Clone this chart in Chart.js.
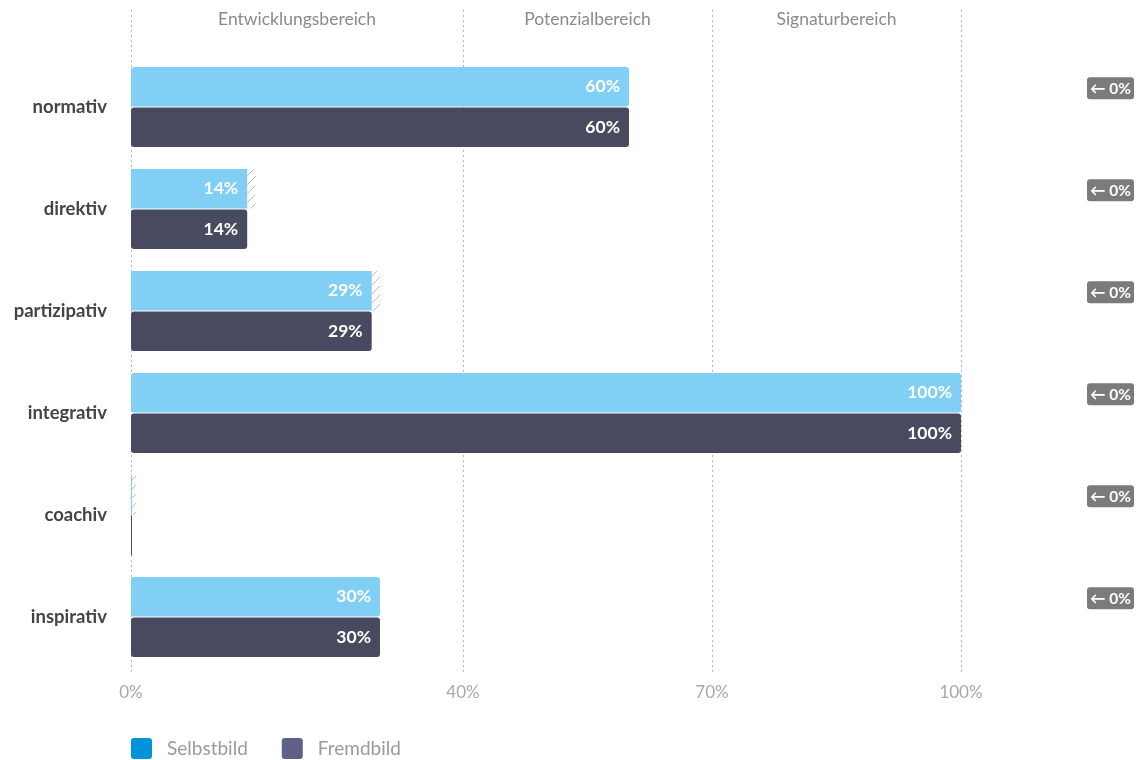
<!DOCTYPE html>
<html>
<head>
<meta charset="utf-8">
<script src="https://cdn.jsdelivr.net/npm/chart.js@4"></script>
<style>
  html, body { margin:0; padding:0; background:#fff; }
  #wrap { width:1138px; height:760px; position:relative; }
</style>
</head>
<body>
<div id="wrap"><canvas id="chart"></canvas></div>
<script>
// values
const categories = ['normativ','direktiv','partizipativ','integrativ','coachiv','inspirativ'];
const selbstbild = [60, 14, 29, 100, 0, 30];
const fremdbild = [60, 14, 29, 100, 0, 30];
const hatchPart = [0, 1, 1, 0, 0.5, 0];
const changes = [0, 0, 0, 0, 0, 0];
const xTicks = [0, 40, 70, 100];
const zones = ['Entwicklungsbereich', 'Potenzialbereich', 'Signaturbereich'];
const legendItems = [{label:'Selbstbild', color:'#0095da'}, {label:'Fremdbild', color:'#5f6189'}];

const FONT = 'Lato, "Open Sans", sans-serif';

// diagonal hatch fill
function makeHatch(){
    const c = document.createElement('canvas');
    c.width = 9; c.height = 9;
    const g = c.getContext('2d');
    g.strokeStyle = '#ababab';
    g.lineWidth = 0.8;
    g.beginPath(); g.moveTo(0,9); g.lineTo(9,0); g.stroke();
    return g.createPattern(c, 'repeat');
}
const hatchFill = makeHatch();

function roundRect(ctx, x, y, w, h, r){
    ctx.beginPath();
    ctx.moveTo(x+r, y);
    ctx.lineTo(x+w-r, y); ctx.quadraticCurveTo(x+w, y, x+w, y+r);
    ctx.lineTo(x+w, y+h-r); ctx.quadraticCurveTo(x+w, y+h, x+w-r, y+h);
    ctx.lineTo(x+r, y+h); ctx.quadraticCurveTo(x, y+h, x, y+h-r);
    ctx.lineTo(x, y+r); ctx.quadraticCurveTo(x, y, x+r, y);
    ctx.closePath();
}

const extras = {
    id: 'extras',
    beforeDatasetsDraw(chart){
        const {ctx, chartArea, scales:{x}} = chart;
        ctx.save();
        // dotted vertical grid
        ctx.strokeStyle = '#b5b5b5';
        ctx.lineWidth = 1;
        ctx.setLineDash([2,3]);
        xTicks.forEach(v=>{
            const px = Math.round(x.getPixelForValue(v)) + 0.5;
            ctx.beginPath(); ctx.moveTo(px, 10); ctx.lineTo(px, chartArea.bottom + 4); ctx.stroke();
        });
        ctx.setLineDash([]);
        // zone titles
        ctx.fillStyle = '#8a8a8a';
        ctx.font = '17.5px ' + FONT;
        ctx.textAlign = 'center'; ctx.textBaseline = 'middle';
        zones.forEach((z,i)=>{
            const cx = (x.getPixelForValue(xTicks[i]) + x.getPixelForValue(xTicks[i+1])) / 2;
            ctx.fillText(z, cx, 19);
        });
        ctx.restore();
    },
    afterDatasetsDraw(chart){
        const {ctx} = chart;
        ctx.save();
        ctx.font = 'bold 17.5px ' + FONT;
        ctx.fillStyle = '#ffffff';
        ctx.textAlign = 'right'; ctx.textBaseline = 'middle';
        [0,1].forEach(di=>{
            const meta = chart.getDatasetMeta(di);
            const vals = chart.data.datasets[di].data;
            meta.data.forEach((bar,i)=>{
                if (!vals[i]) return;
                ctx.fillText(vals[i] + '%', bar.x - 9, bar.y);
            });
        });
        // change badges at the right
        const meta0 = chart.getDatasetMeta(0);
        meta0.data.forEach((bar,i)=>{
            const bx = 1087, bw = 47, bh = 22, by = bar.y + 1.5 - bh/2;
            ctx.fillStyle = '#7b7b7b';
            roundRect(ctx, bx, by, bw, bh, 3); ctx.fill();
            ctx.fillStyle = '#ffffff';
            ctx.font = 'bold 15.5px ' + FONT;
            ctx.textAlign = 'center';
            ctx.fillText('\u2190 ' + changes[i] + '%', bx + bw/2, by + bh/2 + 0.5);
        });
        // legend
        let lx = 131;
        const ly = 748;
        ctx.font = '19px ' + FONT;
        ctx.textAlign = 'left';
        legendItems.forEach(it=>{
            ctx.fillStyle = it.color;
            roundRect(ctx, lx, ly - 10, 21, 21, 3); ctx.fill();
            ctx.fillStyle = '#9a9a9a';
            ctx.fillText(it.label, lx + 36, ly + 1);
            lx += 36 + ctx.measureText(it.label).width + 34;
        });
        ctx.restore();
    }
};

new Chart(document.getElementById('chart'), {
    type: 'bar',
    data: {
        labels: categories,
        datasets: [
            {label:'Selbstbild', data:selbstbild, backgroundColor:'#81cff5', stack:'a', borderRadius:3, borderSkipped:false, minBarLength:1},
            {label:'Fremdbild', data:fremdbild, backgroundColor:'#484b60', stack:'b', borderRadius:3, borderSkipped:false, minBarLength:1},
            {label:'Spanne', data:hatchPart, backgroundColor:hatchFill, stack:'a', borderRadius:0}
        ]
    },
    options: {
        indexAxis: 'y',
        responsive: true,
        maintainAspectRatio: false,
        animation: false,
        layout: {padding: {top:56, right:177, bottom:0, left:0}},
        datasets: {bar: {categoryPercentage:0.79, barPercentage:0.98}},
        plugins: {legend:{display:false}, tooltip:{enabled:false}},
        scales: {
            x: {
                min: 0, max: 100, stacked: true,
                afterBuildTicks: s => { s.ticks = xTicks.map(v=>({value:v})); },
                afterFit: s => { s.height = 92; },
                grid: {display:false},
                border: {display:false},
                ticks: {padding:6, color:'#a8a8a8', font:{family:FONT, size:17}, callback: v => v + '%'}
            },
            y: {
                afterFit: s => { s.width = 131; },
                grid: {display:false},
                border: {display:false},
                ticks: {padding:16, color:'#444444', font:{family:FONT, size:18.5, weight:'bold'}}
            }
        }
    },
    plugins: [extras]
});
</script>
</body>
</html>
